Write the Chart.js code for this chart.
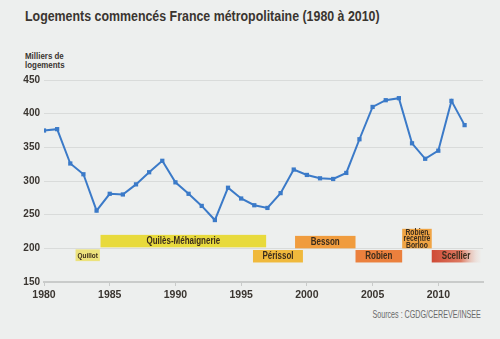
<!DOCTYPE html>
<html>
<head>
<meta charset="utf-8">
<script src="https://cdn.jsdelivr.net/npm/chart.js@4.4.0/dist/chart.umd.min.js"></script>
<style>
  html, body { margin: 0; padding: 0; background: #edefee; }
  #wrap { position: relative; width: 500px; height: 339px; overflow: hidden;
          font-family: "Liberation Sans", Arial, sans-serif; color: #3a3530; }
  #title { position: absolute; left: 25px; top: 8px; font-size: 14px; font-weight: bold; white-space: nowrap;
           transform: scaleX(0.885); transform-origin: left top; }
  #unit { position: absolute; left: 25px; top: 52px; font-size: 9px; font-weight: bold; line-height: 9px;
          white-space: nowrap; transform: scaleX(0.88); transform-origin: left top; }
  #source { position: absolute; right: 19px; top: 308px; font-size: 11px; color: #6a6a6a; white-space: nowrap;
            transform: scaleX(0.65); transform-origin: right top; }
  canvas { position: absolute; left: 0; top: 0; }
</style>
</head>
<body>
<div id="wrap">
  <div id="title">Logements commencés France métropolitaine (1980 à 2010)</div>
  <div id="unit">Milliers de<br>logements</div>
  <div id="source">Sources : CGDG/CEREVE/INSEE</div>
  <canvas id="mycanvas" width="500" height="339"></canvas>
</div>
<script>
// logements commencés, milliers
var years = [1980,1981,1982,1983,1984,1985,1986,1987,1988,1989,1990,1991,1992,1993,1994,1995,1996,
             1997,1998,1999,2000,2001,2002,2003,2004,2005,2006,2007,2008,2009,2010,2011,2012];
var starts = [375,377,326,310,256,281,280,295,313,330,298,281,263,242,290,274,264,
              260,282,317,309,304,303,312,362,410,420,423,356,333,345,419,383];

// dispositifs fiscaux (début, fin en années; bas, haut en milliers)
var policyNames = ["Quillot", "Quilès-Méhaignerie", "Périssol", "Besson", "Robien", "Robien|recentré|Borloo", "Scellier"];
var policyStart = [1982.4, 1984.3, 1995.9, 1999.1, 2003.7, 2007.25, 2009.5];
var policyEnd   = [1984.25, 1996.9, 1999.7, 2003.7, 2007.25, 2009.5, 2013.2];
var policyLow   = [181, 201.5, 179, 200, 179, 200, 179];
var policyHigh  = [198.5, 220, 197.5, 218.5, 197.5, 229, 197.5];

var policyColors = ["#ece27c", "#e8da3c", "#f0b93c", "#f09c3e", "#eb803d", "#f0a444", null];
var policyFont   = [8, 10, 10, 10, 10, 8.5, 10];

var FONT = '"Liberation Sans", Arial, sans-serif';

var policyPlugin = {
	id: 'policies',
	beforeDatasetsDraw: function(chart) {
		var ctx = chart.ctx;
		var xs = chart.scales.x, ys = chart.scales.y;
		ctx.save();
		for (var i = 0; i < policyNames.length; i++) {
			var x0 = xs.getPixelForValue(policyStart[i]);
			var x1 = xs.getPixelForValue(policyEnd[i]);
			var y0 = ys.getPixelForValue(policyHigh[i]);
			var y1 = ys.getPixelForValue(policyLow[i]);
			if (policyColors[i]) {
				ctx.fillStyle = policyColors[i];
			} else {
				var g = ctx.createLinearGradient(x0, 0, x1, 0);
				g.addColorStop(0, '#cf4a36');
				g.addColorStop(0.6, '#dd7a62');
				g.addColorStop(1, 'rgba(237,215,205,0.15)');
				ctx.fillStyle = g;
			}
			ctx.fillRect(x0, y0, x1 - x0, y1 - y0);

			var lines = policyNames[i].split('|');
			var fs = policyFont[i];
			var lh = 6.4;
			ctx.fillStyle = '#3b2c1c';
			ctx.font = 'bold ' + fs + 'px ' + FONT;
			ctx.textAlign = 'center';
			ctx.textBaseline = 'middle';
			var cx = (x0 + x1) / 2;
			var cy = (y0 + y1) / 2 - (lines.length - 1) * lh / 2;
			for (var j = 0; j < lines.length; j++) {
				ctx.save();
				ctx.translate(cx, cy + j * lh + 0.5);
				ctx.scale(0.8, 1);
				ctx.fillText(lines[j], 0, 0);
				ctx.restore();
			}
		}
		ctx.restore();
	}
};

var points = [];
for (var k = 0; k < years.length; k++) {
	points.push({x: years[k], y: starts[k]});
}

var ctx = document.getElementById('mycanvas');
var LineGraph = new Chart(ctx, {
	type: 'line',
	data: {
		datasets: [{
			label: 'Logements commencés',
			data: points,
			borderColor: '#3b7ac8',
			backgroundColor: '#3b7ac8',
			borderWidth: 2,
			tension: 0,
			pointStyle: 'rect',
			pointRadius: 3,
			pointBorderWidth: 0,
			fill: false
		}]
	},
	options: {
		responsive: false,
		animation: false,
		layout: { padding: { left: 18, right: 17, top: 80, bottom: 37 } },
		plugins: { legend: { display: false }, tooltip: { enabled: false } },
		scales: {
			x: {
				type: 'linear',
				min: 1980,
				max: 2013.4,
				afterFit: function(s) { s.height = 20; },
				ticks: {
					stepSize: 5,
					includeBounds: false,
					padding: 3,
					color: '#3a3530',
					font: { family: FONT, size: 10.5, weight: 'bold' },
					callback: function(v) { return v; }
				},
				grid: { display: true, drawOnChartArea: false, drawTicks: true, tickLength: 4, color: '#c9cbca' },
				border: { display: true, color: '#c9cbca', width: 2 }
			},
			y: {
				min: 150,
				max: 450,
				afterFit: function(s) { s.width = 26; },
				ticks: {
					stepSize: 50,
					padding: 4,
					color: '#3a3530',
					font: { family: FONT, size: 10, weight: 'bold' }
				},
				grid: { color: '#d9dbda', lineWidth: 1, drawTicks: false },
				border: { display: false }
			}
		}
	},
	plugins: [policyPlugin]
});
</script>
</body>
</html>
